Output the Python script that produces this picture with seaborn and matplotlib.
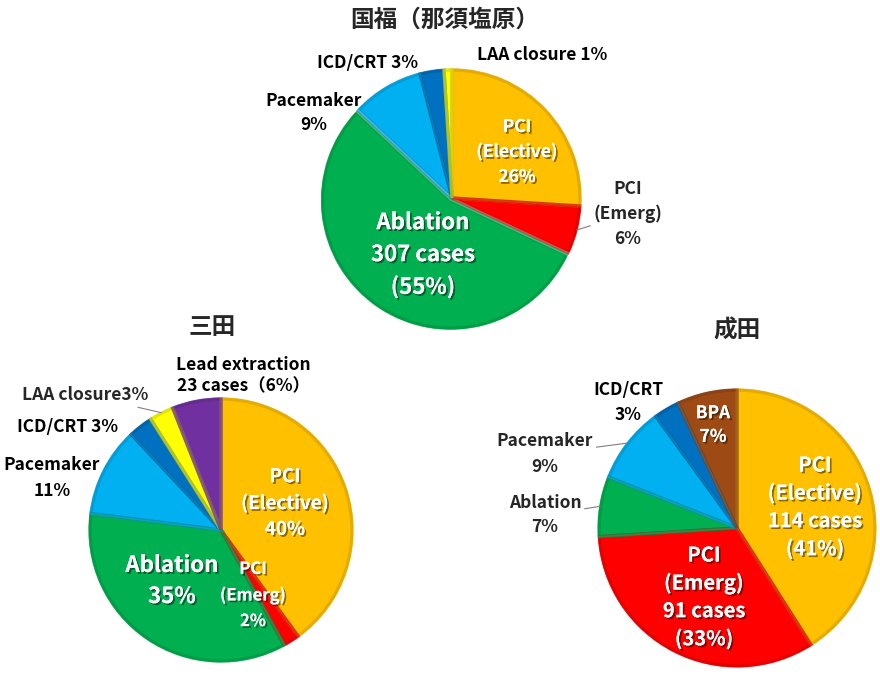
import matplotlib
matplotlib.use("Agg")
import matplotlib.pyplot as plt
import matplotlib.patheffects as pe
import matplotlib.colors as mcolors
import numpy as np
import seaborn as sns

sns.set_theme(style="white")
plt.rcParams['font.family'] = ['Noto Sans CJK JP', 'DejaVu Sans']

# ---------------- data ----------------
kf_title = "国福（那須塩原）"
kf_cats = ["PCI (Elective)", "PCI (Emerg)", "Ablation", "Pacemaker", "ICD/CRT", "LAA closure"]
kf_values = [26, 6, 55, 9, 3, 1]
kf_texts = ["PCI\n(Elective)\n26%", "PCI\n(Emerg)\n6%", "Ablation\n307 cases\n(55%)",
            "Pacemaker\n9%", "ICD/CRT 3%", "LAA closure 1%"]

mita_title = "三田"
mita_cats = ["PCI (Elective)", "PCI (Emerg)", "Ablation", "Pacemaker", "ICD/CRT", "LAA closure",
             "Lead extraction"]
mita_values = [40, 2, 35, 11, 3, 3, 6]
mita_texts = ["PCI\n(Elective)\n40%", "PCI\n(Emerg)\n2%", "Ablation\n35%", "Pacemaker\n11%",
              "ICD/CRT 3%", "LAA closure3%", "Lead extraction\n23 cases（6%）"]

narita_title = "成田"
narita_cats = ["PCI (Elective)", "PCI (Emerg)", "Ablation", "Pacemaker", "ICD/CRT", "BPA"]
narita_values = [41, 33, 7, 9, 3, 7]
narita_texts = ["PCI\n(Elective)\n114 cases\n(41%)", "PCI\n(Emerg)\n91 cases\n(33%)",
                "Ablation\n7%", "Pacemaker\n9%", "ICD/CRT\n3%", "BPA\n7%"]

# ---------------- styles ----------------
cat_colors = {
    "PCI (Elective)": "#FFC000",
    "PCI (Emerg)": "#FF0000",
    "Ablation": "#00B050",
    "Pacemaker": "#00B0F0",
    "ICD/CRT": "#0070C0",
    "LAA closure": "#FFFF00",
    "Lead extraction": "#7030A0",
    "BPA": "#9E4A14",
}

W, H = 880, 682
fig = plt.figure(figsize=(W / 100, H / 100), dpi=100)
fig.patch.set_facecolor("white")


def darker(c, f=0.85):
    r, g, b = mcolors.to_rgb(c)
    return (r * f, g * f, b * f)


def make_pie(cx, cy, r, cats, values, explode=None):
    ax = fig.add_axes([(cx - r) / W, 1 - (cy + r) / H, 2 * r / W, 2 * r / H])
    cols = sns.color_palette([cat_colors[c] for c in cats])
    wedges, _ = ax.pie(values, colors=cols, startangle=90, counterclock=False,
                       radius=1, explode=explode,
                       wedgeprops=dict(linewidth=1.0, edgecolor="white"))
    for w in wedges:
        w.set_clip_on(False)
    # inner darker bevel
    bev, _ = ax.pie(values, colors=cols, startangle=90, counterclock=False,
                    radius=0.985, explode=explode,
                    wedgeprops=dict(linewidth=2.4, fill=False))
    for b, c in zip(bev, cols):
        b.set_edgecolor(darker(c) + (0.7,))
        b.set_clip_on(False)
    ax.set_xlim(-1, 1)
    ax.set_ylim(-1, 1)
    ax.axis("off")
    return ax, wedges


def px(x, y):
    return x / W, 1 - y / H


shadow = [pe.withSimplePatchShadow(offset=(1.3, -1.3), shadow_rgbFace=(0, 0, 0), alpha=0.45),
          pe.Normal()]


def label(x, y, s, color="black", size=12.5, ls=1.5, **kw):
    effects = shadow if color == "white" else None
    fig.text(*px(x, y), s, color=color, fontsize=size, fontweight="bold", ha="center",
             va="center", linespacing=ls, path_effects=effects, **kw)


def leader(ax, wedge, x, y, s, size=12.5, ls=1.5):
    ang = np.deg2rad((wedge.theta1 + wedge.theta2) / 2)
    xy = (np.cos(ang) * 0.99, np.sin(ang) * 0.99)
    ax.annotate(s, xy=xy, xycoords="data", xytext=px(x, y), textcoords="figure fraction",
                ha="center", va="center", fontsize=size, fontweight="bold", linespacing=ls,
                arrowprops=dict(arrowstyle="-", color="#808080", lw=0.8,
                                shrinkA=0, shrinkB=0), annotation_clip=False)


# ---------------- top pie ----------------
ax1, w1 = make_pie(452, 198, 130, kf_cats, kf_values, explode=[0, 0, 0.02, 0, 0, 0])
fig.text(*px(445, 20), kf_title, fontsize=17, fontweight="bold", ha="center", va="center")
label(517, 152, kf_texts[0], "white", 12.5)
leader(ax1, w1[1], 628, 214, kf_texts[1], 12.5)
label(423, 255, kf_texts[2], "white", 16)
label(314, 113, kf_texts[3])
label(367, 63, kf_texts[4])
label(542, 55, kf_texts[5])

# ---------------- left pie ----------------
ax2, w2 = make_pie(221, 530, 133, mita_cats, mita_values)
fig.text(*px(212, 327), mita_title, fontsize=17, fontweight="bold", ha="center", va="center")
label(285, 503, mita_texts[0], "white", 13.5, ls=1.45)
label(253, 595, mita_texts[1], "white", 12, ls=1.55)
label(172, 581, mita_texts[2], "white", 16, ls=1.45)
label(52, 478, mita_texts[3])
label(67, 427, mita_texts[4])
leader(ax2, w2[5], 85, 395, mita_texts[5])
label(243, 376, mita_texts[6], ls=1.25)

# ---------------- right pie ----------------
ax3, w3 = make_pie(737, 528, 140, narita_cats, narita_values)
fig.text(*px(737, 331), narita_title, fontsize=17, fontweight="bold", ha="center", va="center")
label(815, 507, narita_texts[0], "white", 14.5, ls=1.38)
label(704, 597, narita_texts[1], "white", 14.5, ls=1.38)
leader(ax3, w3[2], 545, 515, narita_texts[2])
leader(ax3, w3[3], 545, 454, narita_texts[3])
label(628, 403, narita_texts[4])
label(713, 425, narita_texts[5], "white", 12.5, ls=1.4)

fig.savefig("out.png", dpi=100, facecolor="white")
